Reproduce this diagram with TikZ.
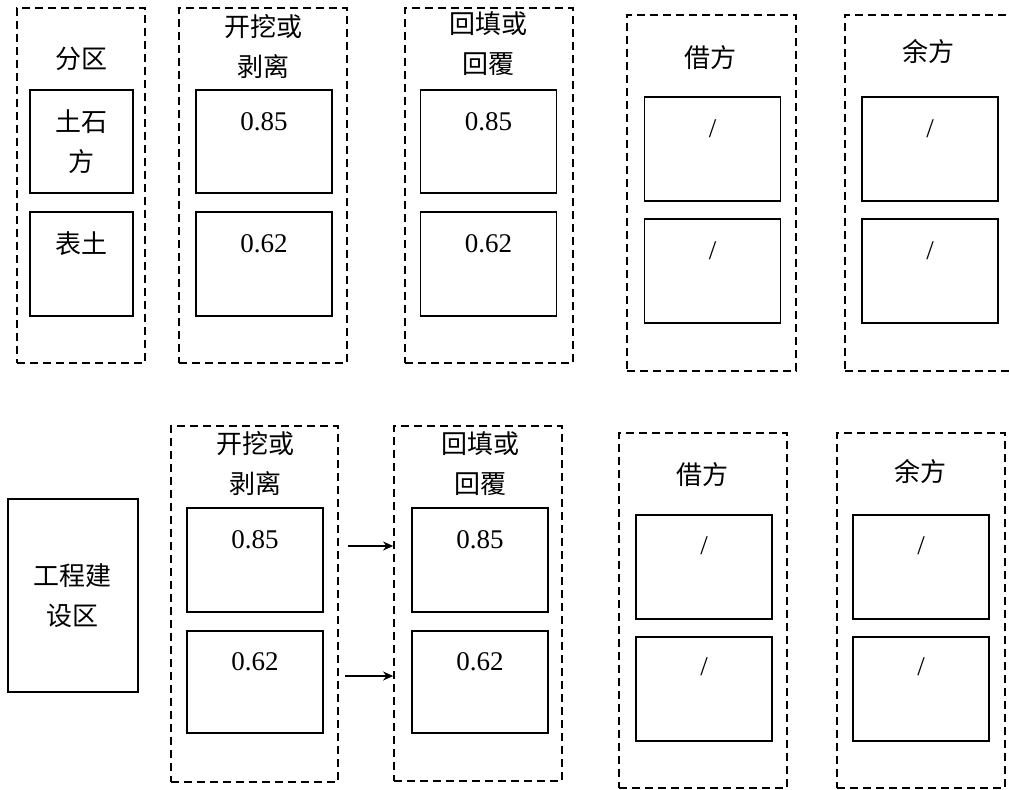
\documentclass[tikz,border=0pt]{standalone}
\usepackage{fontspec}
\setmainfont{Liberation Serif}
\newfontfamily\cjk{Noto Sans CJK SC}
\usetikzlibrary{arrows.meta}

\begin{document}
\begin{tikzpicture}
[ x=1pt, y=-1pt, line width=1.8pt
, group/.style={rectangle, draw, dash pattern=on 8pt off 5pt, inner sep=0pt, minimum width=168pt, minimum height=355pt}
, cell/.style={rectangle, draw, inner sep=0pt, minimum width=136pt, minimum height=104pt}
, cn/.style={font=\cjk\fontsize{26}{40}\selectfont, align=center, inner sep=0pt}
, num/.style={font=\fontsize{27}{32}\selectfont, inner sep=0pt}
, flow/.style={-{Stealth[length=10pt, width=9pt]}, line width=1.6pt}
]
\useasboundingbox (0,0) rectangle (1010,790);
% Top row:
\node (tzone) [group, minimum width=128pt] at (81,185.5) {};
\node (tzoneh) [cn] at (81,59) {分区};
\node (tsoil) [cell, minimum width=103pt, minimum height=103pt] at (81.5,141.5) {};
\node (tsoilv) [cn, yshift=-53pt] at (tsoil.north) {土石\\方};
\node (ttop) [cell, minimum width=103pt] at (81.5,264) {};
\node (ttopv) [cn, yshift=-33pt] at (ttop.north) {表土};
\node (tdig) [group] at (263,185.5) {};
\node (tdigh) [cn] at (263,47) {开挖或\\剥离};
\node (tdig1) [cell, minimum height=103pt] at (264,141.5) {};
\node (tdig1v) [num, yshift=-33pt] at (tdig1.north) {0.85};
\node (tdig2) [cell] at (264,264) {};
\node (tdig2v) [num, yshift=-33pt] at (tdig2.north) {0.62};
\node (tfill) [group] at (489,185.5) {};
\node (tfillh) [cn] at (488,44) {回填或\\回覆};
\node (tfill1) [cell, minimum height=103pt] at (488.5,141.5) {};
\node (tfill1v) [num, yshift=-33pt] at (tfill1.north) {0.85};
\node (tfill2) [cell] at (488.5,264) {};
\node (tfill2v) [num, yshift=-33pt] at (tfill2.north) {0.62};
\node (tborrow) [group, minimum width=169pt, minimum height=356pt] at (711.5,193) {};
\node (tborrowh) [cn] at (710,58) {借方};
\node (tborrow1) [cell] at (712.5,149) {};
\node (tborrow1v) [num, yshift=-33pt] at (tborrow1.north) {/};
\node (tborrow2) [cell] at (712.5,271) {};
\node (tborrow2v) [num, yshift=-33pt] at (tborrow2.north) {/};
\node (tspare) [group, minimum width=169pt, minimum height=356pt] at (929.5,193) {};
\node (tspareh) [cn] at (928,52) {余方};
\node (tspare1) [cell] at (930,149) {};
\node (tspare1v) [num, yshift=-33pt] at (tspare1.north) {/};
\node (tspare2) [cell] at (930,271) {};
\node (tspare2v) [num, yshift=-33pt] at (tspare2.north) {/};
% Bottom row:
\node (site) [cell, cn, minimum width=130pt, minimum height=193pt] at (73,595.5) {工程建\\设区};
\node (bdig) [group, minimum width=167pt, minimum height=356pt] at (254.5,604) {};
\node (bdigh) [cn] at (255,464) {开挖或\\剥离};
\node (bdig1) [cell] at (255,560) {};
\node (bdig1v) [num, yshift=-33pt] at (bdig1.north) {0.85};
\node (bdig2) [cell, minimum height=102pt] at (255,682) {};
\node (bdig2v) [num, yshift=-32pt] at (bdig2.north) {0.62};
\node (bfill) [group] at (478,603.5) {};
\node (bfillh) [cn] at (480,463.5) {回填或\\回覆};
\node (bfill1) [cell] at (480,560) {};
\node (bfill1v) [num, yshift=-33pt] at (bfill1.north) {0.85};
\node (bfill2) [cell, minimum height=102pt] at (480,682) {};
\node (bfill2v) [num, yshift=-32pt] at (bfill2.north) {0.62};
\node (bborrow) [group] at (703,610.5) {};
\node (bborrowh) [cn] at (702,475) {借方};
\node (bborrow1) [cell] at (704,567) {};
\node (bborrow1v) [num, yshift=-32pt] at (bborrow1.north) {/};
\node (bborrow2) [cell] at (704,689) {};
\node (bborrow2v) [num, yshift=-31pt] at (bborrow2.north) {/};
\node (bspare) [group] at (921,610.5) {};
\node (bspareh) [cn] at (920,472) {余方};
\node (bspare1) [cell] at (921,567) {};
\node (bspare1v) [num, yshift=-32pt] at (bspare1.north) {/};
\node (bspare2) [cell] at (921,689) {};
\node (bspare2v) [num, yshift=-31pt] at (bspare2.north) {/};
% Arrows:
\coordinate (a1) at (348,546);
\coordinate (a2) at (345,676);
\draw [flow] (a1) -- (a1 -| bfill.west);
\draw [flow] (a2) -- (a2 -| bfill.west);
\end{tikzpicture}
\end{document}
